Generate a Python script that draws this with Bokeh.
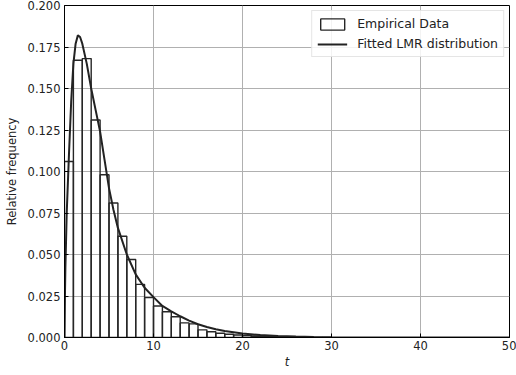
from bokeh.plotting import figure
from bokeh.models import Range1d, FixedTicker, NumeralTickFormatter, Legend, LegendItem
from bokeh.embed import file_html
from bokeh.resources import INLINE

# Histogram (bin edges and relative frequencies)
bin_left = [0, 1, 2, 3, 4, 5, 6, 7, 8, 9, 10, 11, 12, 13, 14, 15, 16, 17, 18, 19,
            20, 21, 22, 23, 24, 25, 26, 27, 28, 29]
bin_right = [1, 2, 3, 4, 5, 6, 7, 8, 9, 10, 11, 12, 13, 14, 15, 16, 17, 18, 19, 20,
             21, 22, 23, 24, 25, 26, 27, 28, 29, 30]
rel_freq = [0.106, 0.167, 0.168, 0.131, 0.098, 0.081, 0.061, 0.047, 0.032, 0.024,
            0.019, 0.0155, 0.0125, 0.0088, 0.0082, 0.0046, 0.0035, 0.0026, 0.002, 0.0015,
            0.0012, 0.0009, 0.0007, 0.0005, 0.0004, 0.0003, 0.0002, 0.00015, 0.0001, 0.0001]

# Fitted LMR distribution
fit_t = [0, 0.05, 0.1, 0.25, 0.5, 0.75, 1.0, 1.25, 1.5, 1.75, 2.0, 2.5, 3.0, 3.5, 4.0, 4.5,
         5.0, 5.5, 6, 7, 8, 9, 10, 11, 12, 13, 14, 15, 16, 17, 18, 20, 22, 24, 26,
         28, 30, 35, 40, 50]
fit_pdf = [0, 0.025, 0.042, 0.075, 0.11, 0.142, 0.165, 0.177, 0.182, 0.181, 0.177, 0.165,
           0.150, 0.137, 0.124, 0.107, 0.090, 0.077, 0.066, 0.050, 0.038, 0.030,
           0.0243, 0.019, 0.0158, 0.0128, 0.0102, 0.0080, 0.0063, 0.0050, 0.0039,
           0.0024, 0.0015, 0.0009, 0.00055, 0.00033, 0.0002, 0.00006, 0.00002, 0.0]

x_ticks = [0, 10, 20, 30, 40, 50]
y_ticks = [0.0, 0.025, 0.05, 0.075, 0.1, 0.125, 0.15, 0.175, 0.2]

FONT = "DejaVu Sans"

p = figure(width=516, height=375, output_backend="svg", toolbar_location=None,
           x_range=Range1d(0, 50), y_range=Range1d(0, 0.2),
           min_border_left=64, min_border_right=7, min_border_top=5, min_border_bottom=38)

p.outline_line_color = "black"
p.outline_line_width = 1
p.background_fill_color = "white"
p.border_fill_color = "white"

bars = p.quad(left=bin_left, right=bin_right, bottom=0, top=rel_freq,
              fill_color=None, line_color="#262626", line_width=1.4)
curve = p.line(fit_t, fit_pdf, line_color="#222222", line_width=2)

for ax in (p.xaxis[0], p.yaxis[0]):
    ax.major_label_text_font = FONT
    ax.major_label_text_font_size = "11.5px"
    ax.major_label_text_color = "#222222"
    ax.axis_label_text_font = FONT
    ax.axis_label_text_font_size = "11.5px"
    ax.axis_label_text_font_style = "normal"
    ax.axis_label_text_color = "#222222"
    ax.major_tick_in = 4
    ax.major_tick_out = 0
    ax.minor_tick_line_color = None
    ax.axis_line_color = "black"
    ax.major_tick_line_color = "black"

p.xaxis[0].ticker = FixedTicker(ticks=x_ticks)
p.yaxis[0].ticker = FixedTicker(ticks=y_ticks)
p.yaxis[0].formatter = NumeralTickFormatter(format="0.000")
p.xaxis[0].axis_label = "t"
p.xaxis[0].axis_label_text_font_style = "italic"
p.xaxis[0].axis_label_standoff = 2
p.xaxis[0].major_label_standoff = 3
p.yaxis[0].axis_label = "Relative frequency"
p.yaxis[0].axis_label_standoff = 6
p.yaxis[0].major_label_standoff = 4

p.grid.grid_line_color = "#b0b0b0"
p.grid.grid_line_width = 1

legend = Legend(items=[LegendItem(label="Empirical Data", renderers=[bars]),
                       LegendItem(label="Fitted LMR distribution", renderers=[curve])],
                location="top_right")
legend.label_text_font = FONT
legend.label_text_font_size = "12.5px"
legend.label_text_color = "#222222"
legend.border_line_color = "#cccccc"
legend.background_fill_alpha = 0.85
legend.glyph_width = 30
legend.glyph_height = 14
legend.label_standoff = 10
legend.spacing = 5
legend.padding = 5
legend.margin = 5
legend.label_height = 15
p.add_layout(legend, "center")

open("out.html", "w").write(file_html(p, INLINE))
